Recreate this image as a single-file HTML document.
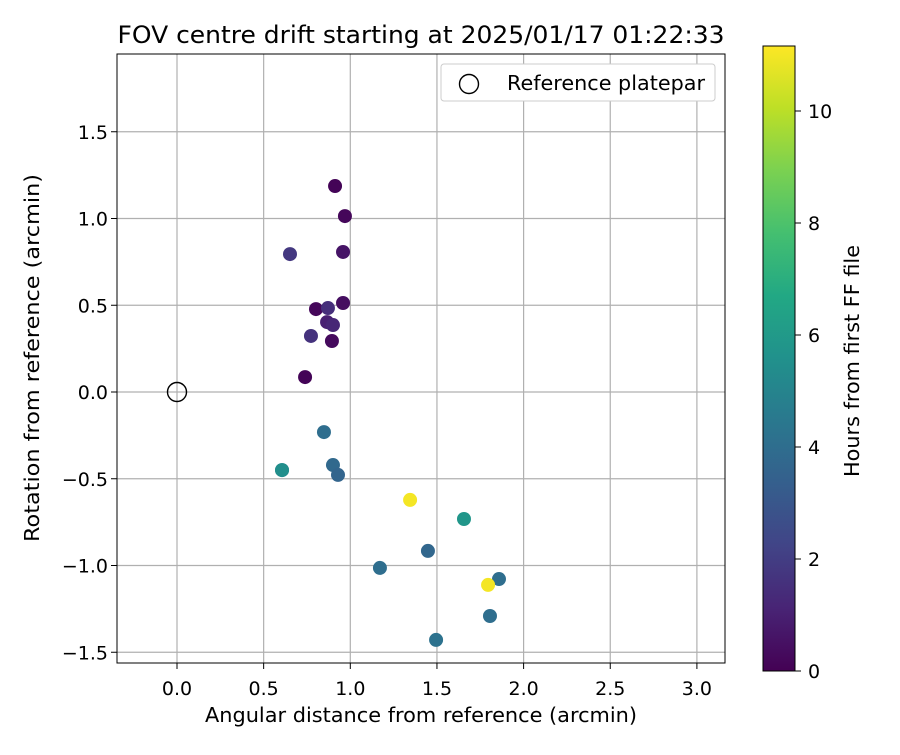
<!DOCTYPE html>
<html><head><meta charset="utf-8"><style>
body{margin:0;background:#fff;}
svg text{font-family:"DejaVu Sans","Liberation Sans",sans-serif;fill:#000;}
</style></head><body>
<svg id="chart" width="900" height="750" xmlns="http://www.w3.org/2000/svg">
<defs>
<linearGradient id="vir" x1="0" y1="1" x2="0" y2="0">
<stop offset="0" stop-color="#440154"/><stop offset="0.1" stop-color="#482475"/><stop offset="0.2" stop-color="#414487"/><stop offset="0.3" stop-color="#355f8d"/><stop offset="0.4" stop-color="#2a788e"/><stop offset="0.5" stop-color="#21918c"/><stop offset="0.6" stop-color="#22a884"/><stop offset="0.7" stop-color="#44bf70"/><stop offset="0.8" stop-color="#7ad151"/><stop offset="0.9" stop-color="#bddf26"/><stop offset="1" stop-color="#fde725"/>
</linearGradient>
</defs>
<g id="grid"></g>
<g id="marks"></g>
<rect x="117" y="54" width="608" height="609" fill="none" stroke="#000" stroke-width="1"/>
<g id="axes"></g>
<text x="421" y="43" font-size="24" text-anchor="middle" textLength="607" lengthAdjust="spacingAndGlyphs">FOV centre drift starting at 2025/01/17 01:22:33</text>
<text x="421" y="722" font-size="20" text-anchor="middle" textLength="432" lengthAdjust="spacingAndGlyphs">Angular distance from reference (arcmin)</text>
<text x="0" y="0" font-size="20" text-anchor="middle" textLength="368" lengthAdjust="spacingAndGlyphs" transform="translate(39,358) rotate(-90)">Rotation from reference (arcmin)</text>
<g>
<rect x="441" y="64" width="274" height="37" rx="3" fill="#fff" stroke="#ccc"/>
<circle cx="469" cy="84" r="9.5" fill="none" stroke="#000" stroke-width="1.4"/>
<text x="507" y="90" font-size="20" textLength="198" lengthAdjust="spacingAndGlyphs">Reference platepar</text>
</g>
<rect x="763" y="46" width="32" height="625" fill="url(#vir)" stroke="#000" stroke-width="1"/>
<g id="cbaxis"></g>
<text x="0" y="0" font-size="20" text-anchor="middle" textLength="232" lengthAdjust="spacingAndGlyphs" transform="translate(859,361) rotate(-90)">Hours from first FF file</text>
</svg>
<script>
const xs=[0.912,0.969,0.958,0.652,0.958,0.802,0.871,0.866,0.900,0.773,0.894,0.739,0.848,0.606,0.606,0.900,0.929,1.345,1.656,1.448,1.171,1.858,1.795,1.806,1.495];
const ys=[1.187,1.014,0.807,0.795,0.513,0.478,0.484,0.403,0.386,0.323,0.294,0.086,-0.231,-0.450,-0.450,-0.421,-0.478,-0.622,-0.732,-0.916,-1.014,-1.078,-1.112,-1.291,-1.429];
const hours=[0.1,0.2,0.6,1.8,0.4,0.2,1.5,1.0,1.2,1.6,0.3,0.1,4.0,4.5,5.5,3.8,3.6,11.0,5.8,3.7,4.0,4.0,11.0,4.0,4.2];
const xTicks=[0,0.5,1,1.5,2,2.5,3];
const yTicks=[-1.5,-1,-0.5,0,0.5,1,1.5];
const cTicks=[0,2,4,6,8,10];
const NS="http://www.w3.org/2000/svg";
const X=v=>177+v*173.3, Y=v=>392-v*173.5, C=v=>671-v*56;
const vir=["#440154","#482475","#414487","#355f8d","#2a788e","#21918c","#22a884","#44bf70","#7ad151","#bddf26","#fde725"];
function hex(h){return [1,3,5].map(i=>parseInt(h.substr(i,2),16));}
function col(h){let t=Math.max(0,Math.min(1,h/11.16))*10,i=Math.min(9,Math.floor(t)),f=t-i,a=hex(vir[i]),b=hex(vir[i+1]);return "rgb("+a.map((v,k)=>Math.round(v+(b[k]-v)*f)).join(",")+")";}
function mk(t,attrs,p){const e=document.createElementNS(NS,t);for(const k in attrs)e.setAttribute(k,attrs[k]);document.getElementById(p).appendChild(e);return e;}
xTicks.forEach(v=>{
 const g=mk("line",{x1:X(v),x2:X(v),y1:54,y2:663,stroke:"#b0b0b0","stroke-width":1.2},"grid");
 
 
 const t=mk("line",{x1:X(v),x2:X(v),y1:663,y2:669,stroke:"#000"},"axes");
 
 
 const l=mk("text",{x:X(v),y:695,"font-size":19,"text-anchor":"middle"},"axes");l.textContent=v.toFixed(1);
 
 
});
yTicks.forEach(v=>{
 const g=mk("line",{x1:117,x2:725,y1:Y(v),y2:Y(v),stroke:"#b0b0b0","stroke-width":1.2},"grid");
 
 
 const t=mk("line",{x1:111,x2:117,y1:Y(v),y2:Y(v),stroke:"#000"},"axes");
 
 
 const l=mk("text",{x:108,y:Y(v)+7,"font-size":19,"text-anchor":"end"},"axes");l.textContent=(v<0?"\u2212":"")+Math.abs(v).toFixed(1);
 
 
});
cTicks.forEach(v=>{
 const t=mk("line",{x1:795,x2:801,y1:C(v),y2:C(v),stroke:"#000"},"cbaxis");
 
 
 const l=mk("text",{x:808,y:C(v)+7,"font-size":19},"cbaxis");l.textContent=v;
 
 
});
xs.forEach((v,i)=>{
 const c=mk("circle",{cx:X(v),cy:Y(ys[i]),r:7,fill:col(hours[i])},"marks");
 
 
});
const r=mk("circle",{cx:X(0),cy:Y(0),r:9.5,fill:"none",stroke:"#000","stroke-width":1.4},"marks");


</script>
</body></html>
